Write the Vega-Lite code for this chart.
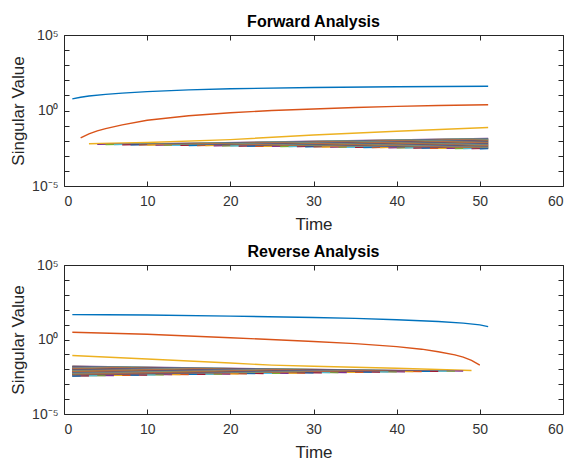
{
  "$schema": "https://vega.github.io/schema/vega-lite/v6.json",
  "background": "white",
  "padding": {"left": 9, "top": 14, "right": 5, "bottom": 2},
  "spacing": 12,
  "config": {
    "font": "Liberation Sans",
    "view": {"stroke": null},
    "axis": {"grid": false, "domainColor": "#262626", "tickColor": "#262626", "tickSize": -5, "labelColor": "#333333", "labelFontSize": 14, "titleFontSize": 17, "titleFontWeight": "normal", "titleColor": "#262626", "domainWidth": 1, "labelOverlap": false},
    "axisX": {"labelPadding": 13, "titlePadding": 8},
    "axisY": {"labelPadding": 11, "titlePadding": 4},
    "title": {"fontSize": 16, "fontWeight": "bold", "color": "#000000", "offset": -2}
  },
  "datasets": {
    "fwd": [
      {"s":1,"t":1,"v":5.89},{"s":1,"t":2,"v":7.59},{"s":1,"t":3,"v":9.12},{"s":1,"t":5,"v":11.7},{"s":1,"t":7,"v":14.1},{"s":1,"t":10,"v":17.8},{"s":1,"t":15,"v":23.4},{"s":1,"t":20,"v":27.5},{"s":1,"t":30,"v":33.1},{"s":1,"t":40,"v":37.2},{"s":1,"t":51,"v":40.7},
      {"s":2,"t":2,"v":0.01514},{"s":2,"t":3,"v":0.02818},{"s":2,"t":4,"v":0.04467},{"s":2,"t":5,"v":0.0631},{"s":2,"t":7,"v":0.1122},{"s":2,"t":10,"v":0.2239},{"s":2,"t":15,"v":0.4467},{"s":2,"t":20,"v":0.7079},{"s":2,"t":25,"v":1.0},{"s":2,"t":30,"v":1.259},{"s":2,"t":35,"v":1.585},{"s":2,"t":40,"v":1.862},{"s":2,"t":45,"v":2.138},{"s":2,"t":51,"v":2.399},
      {"s":3,"t":3,"v":0.00631},{"s":3,"t":10,"v":0.00759},{"s":3,"t":20,"v":0.01175},{"s":3,"t":30,"v":0.02399},{"s":3,"t":40,"v":0.04266},{"s":3,"t":51,"v":0.07413},
      {"s":4,"t":4,"v":0.00555},{"s":4,"t":51,"v":0.01445},
      {"s":5,"t":5,"v":0.00546},{"s":5,"t":51,"v":0.01396},
      {"s":6,"t":6,"v":0.00538},{"s":6,"t":51,"v":0.01349},
      {"s":7,"t":7,"v":0.00531},{"s":7,"t":51,"v":0.01303},
      {"s":8,"t":8,"v":0.00524},{"s":8,"t":51,"v":0.01259},
      {"s":9,"t":9,"v":0.00515},{"s":9,"t":51,"v":0.01213},
      {"s":10,"t":10,"v":0.00508},{"s":10,"t":51,"v":0.01172},
      {"s":11,"t":11,"v":0.00501},{"s":11,"t":51,"v":0.01132},
      {"s":12,"t":12,"v":0.00494},{"s":12,"t":51,"v":0.01094},
      {"s":13,"t":13,"v":0.00486},{"s":13,"t":51,"v":0.01057},
      {"s":14,"t":14,"v":0.0048},{"s":14,"t":51,"v":0.01021},
      {"s":15,"t":15,"v":0.00473},{"s":15,"t":51,"v":0.00986},
      {"s":16,"t":16,"v":0.00467},{"s":16,"t":51,"v":0.00953},
      {"s":17,"t":17,"v":0.00459},{"s":17,"t":51,"v":0.0092},
      {"s":18,"t":18,"v":0.00453},{"s":18,"t":51,"v":0.00889},
      {"s":19,"t":19,"v":0.00447},{"s":19,"t":51,"v":0.00857},
      {"s":20,"t":20,"v":0.00441},{"s":20,"t":51,"v":0.00828},
      {"s":21,"t":21,"v":0.00434},{"s":21,"t":51,"v":0.008},
      {"s":22,"t":22,"v":0.00428},{"s":22,"t":51,"v":0.00773},
      {"s":23,"t":23,"v":0.00422},{"s":23,"t":51,"v":0.00746},
      {"s":24,"t":24,"v":0.00416},{"s":24,"t":51,"v":0.00721},
      {"s":25,"t":25,"v":0.00409},{"s":25,"t":51,"v":0.00697},
      {"s":26,"t":26,"v":0.00404},{"s":26,"t":51,"v":0.00673},
      {"s":27,"t":27,"v":0.00398},{"s":27,"t":51,"v":0.0065},
      {"s":28,"t":28,"v":0.00393},{"s":28,"t":51,"v":0.00628},
      {"s":29,"t":29,"v":0.00386},{"s":29,"t":51,"v":0.00605},
      {"s":30,"t":30,"v":0.00381},{"s":30,"t":51,"v":0.00585},
      {"s":31,"t":31,"v":0.00376},{"s":31,"t":51,"v":0.00565},
      {"s":32,"t":32,"v":0.00371},{"s":32,"t":51,"v":0.00546},
      {"s":33,"t":33,"v":0.00365},{"s":33,"t":51,"v":0.00527},
      {"s":34,"t":34,"v":0.0036},{"s":34,"t":51,"v":0.00509},
      {"s":35,"t":35,"v":0.00355},{"s":35,"t":51,"v":0.00492},
      {"s":36,"t":36,"v":0.0035},{"s":36,"t":51,"v":0.00475},
      {"s":37,"t":37,"v":0.00344},{"s":37,"t":51,"v":0.00459},
      {"s":38,"t":38,"v":0.0034},{"s":38,"t":51,"v":0.00444},
      {"s":39,"t":39,"v":0.00335},{"s":39,"t":51,"v":0.00428},
      {"s":40,"t":40,"v":0.0033},{"s":40,"t":51,"v":0.00413},
      {"s":41,"t":41,"v":0.00325},{"s":41,"t":51,"v":0.00399},
      {"s":42,"t":42,"v":0.00321},{"s":42,"t":51,"v":0.00385},
      {"s":43,"t":43,"v":0.00316},{"s":43,"t":51,"v":0.00372},
      {"s":44,"t":44,"v":0.00312},{"s":44,"t":51,"v":0.0036},
      {"s":45,"t":45,"v":0.00307},{"s":45,"t":51,"v":0.00348},
      {"s":46,"t":46,"v":0.00303},{"s":46,"t":51,"v":0.00336},
      {"s":47,"t":47,"v":0.00299},{"s":47,"t":51,"v":0.00324},
      {"s":48,"t":48,"v":0.00294},{"s":48,"t":51,"v":0.00313},
      {"s":49,"t":49,"v":0.0029},{"s":49,"t":51,"v":0.00302},
      {"s":50,"t":50,"v":0.00286},{"s":50,"t":51,"v":0.00292}
    ],
    "rev": [
      {"s":1,"t":1,"v":46.8},{"s":1,"t":5,"v":45.7},{"s":1,"t":10,"v":43.7},{"s":1,"t":20,"v":37.2},{"s":1,"t":30,"v":30.2},{"s":1,"t":35,"v":26.3},{"s":1,"t":40,"v":21.4},{"s":1,"t":45,"v":16.2},{"s":1,"t":48,"v":12.6},{"s":1,"t":50,"v":9.55},{"s":1,"t":51,"v":7.24},
      {"s":2,"t":1,"v":3.09},{"s":2,"t":10,"v":2.24},{"s":2,"t":20,"v":1.318},{"s":2,"t":30,"v":0.741},{"s":2,"t":35,"v":0.525},{"s":2,"t":40,"v":0.331},{"s":2,"t":43,"v":0.224},{"s":2,"t":45,"v":0.151},{"s":2,"t":47,"v":0.0933},{"s":2,"t":48,"v":0.0661},{"s":2,"t":49,"v":0.0398},{"s":2,"t":50,"v":0.01905},
      {"s":3,"t":1,"v":0.0851},{"s":3,"t":10,"v":0.049},{"s":3,"t":20,"v":0.0263},{"s":3,"t":25,"v":0.01905},{"s":3,"t":30,"v":0.01585},{"s":3,"t":40,"v":0.01175},{"s":3,"t":49,"v":0.00832},
      {"s":4,"t":1,"v":0.01622},{"s":4,"t":48,"v":0.00759},
      {"s":5,"t":1,"v":0.01567},{"s":5,"t":47,"v":0.00746},
      {"s":6,"t":1,"v":0.01514},{"s":6,"t":46,"v":0.00733},
      {"s":7,"t":1,"v":0.01466},{"s":7,"t":45,"v":0.00721},
      {"s":8,"t":1,"v":0.01416},{"s":8,"t":44,"v":0.0071},
      {"s":9,"t":1,"v":0.01368},{"s":9,"t":43,"v":0.00698},
      {"s":10,"t":1,"v":0.01321},{"s":10,"t":42,"v":0.00687},
      {"s":11,"t":1,"v":0.01279},{"s":11,"t":41,"v":0.00676},
      {"s":12,"t":1,"v":0.01236},{"s":12,"t":40,"v":0.00664},
      {"s":13,"t":1,"v":0.01194},{"s":13,"t":39,"v":0.00653},
      {"s":14,"t":1,"v":0.01153},{"s":14,"t":38,"v":0.00643},
      {"s":15,"t":1,"v":0.01114},{"s":15,"t":37,"v":0.00632},
      {"s":16,"t":1,"v":0.01079},{"s":16,"t":36,"v":0.00622},
      {"s":17,"t":1,"v":0.01042},{"s":17,"t":35,"v":0.00612},
      {"s":18,"t":1,"v":0.01007},{"s":18,"t":34,"v":0.00601},
      {"s":19,"t":1,"v":0.00973},{"s":19,"t":33,"v":0.00592},
      {"s":20,"t":1,"v":0.00942},{"s":20,"t":32,"v":0.00582},
      {"s":21,"t":1,"v":0.0091},{"s":21,"t":31,"v":0.00573},
      {"s":22,"t":1,"v":0.00879},{"s":22,"t":30,"v":0.00564},
      {"s":23,"t":1,"v":0.00849},{"s":23,"t":29,"v":0.00555},
      {"s":24,"t":1,"v":0.0082},{"s":24,"t":28,"v":0.00545},
      {"s":25,"t":1,"v":0.00794},{"s":25,"t":27,"v":0.00536},
      {"s":26,"t":1,"v":0.00767},{"s":26,"t":26,"v":0.00527},
      {"s":27,"t":1,"v":0.00741},{"s":27,"t":25,"v":0.00519},
      {"s":28,"t":1,"v":0.00716},{"s":28,"t":24,"v":0.00511},
      {"s":29,"t":1,"v":0.00692},{"s":29,"t":23,"v":0.00502},
      {"s":30,"t":1,"v":0.0067},{"s":30,"t":22,"v":0.00493},
      {"s":31,"t":1,"v":0.00647},{"s":31,"t":21,"v":0.00485},
      {"s":32,"t":1,"v":0.00625},{"s":32,"t":20,"v":0.00478},
      {"s":33,"t":1,"v":0.00604},{"s":33,"t":19,"v":0.0047},
      {"s":34,"t":1,"v":0.00585},{"s":34,"t":18,"v":0.00462},
      {"s":35,"t":1,"v":0.00565},{"s":35,"t":17,"v":0.00455},
      {"s":36,"t":1,"v":0.00546},{"s":36,"t":16,"v":0.00447},
      {"s":37,"t":1,"v":0.00527},{"s":37,"t":15,"v":0.0044},
      {"s":38,"t":1,"v":0.00509},{"s":38,"t":14,"v":0.00433},
      {"s":39,"t":1,"v":0.00493},{"s":39,"t":13,"v":0.00426},
      {"s":40,"t":1,"v":0.00476},{"s":40,"t":12,"v":0.00419},
      {"s":41,"t":1,"v":0.0046},{"s":41,"t":11,"v":0.00412},
      {"s":42,"t":1,"v":0.00445},{"s":42,"t":10,"v":0.00405},
      {"s":43,"t":1,"v":0.00431},{"s":43,"t":9,"v":0.00398},
      {"s":44,"t":1,"v":0.00416},{"s":44,"t":8,"v":0.00392},
      {"s":45,"t":1,"v":0.00402},{"s":45,"t":7,"v":0.00385},
      {"s":46,"t":1,"v":0.00388},{"s":46,"t":6,"v":0.00379},
      {"s":47,"t":1,"v":0.00375},{"s":47,"t":5,"v":0.00373},
      {"s":48,"t":1,"v":0.00363},{"s":48,"t":4,"v":0.00366},
      {"s":49,"t":1,"v":0.00351},{"s":49,"t":3,"v":0.00361},
      {"s":50,"t":1,"v":0.00339},{"s":50,"t":2,"v":0.00355}
    ]
  },
  "vconcat": [
    {
      "title": "Forward Analysis",
      "width": 499,
      "height": 151,
      "data": {"name": "fwd"},
      "resolve": {"axis": {"x": "independent", "y": "independent"}},
      "layer": [
        {
          "mark": {"type": "line", "clip": true},
          "encoding": {
            "x": {"field": "t", "type": "quantitative", "scale": {"domain": [0, 60], "nice": false}, "axis": {"values": [0,10,20,30,40,50,60], "title": "Time"}},
            "y": {"field": "v", "type": "quantitative", "scale": {"type": "log", "domain": [0.00001, 100000], "nice": false}, "axis": {"values": [0.00001,0.0001,0.001,0.01,0.1,1,10,100,1000,10000,100000], "labelExpr": "datum.value < 0.00002 ? '10⁻⁵' : (datum.value > 0.5 && datum.value < 2) ? '10⁰' : datum.value > 50000 ? '10⁵' : ''", "title": "Singular Value"}},
            "color": {"field": "s", "type": "ordinal", "scale": {"range": ["#0072BD","#D95319","#EDB120","#7E2F8E","#77AC30","#4DBEEE","#A2142F"]}, "legend": null},
            "strokeWidth": {"condition": {"test": "datum.s <= 3", "value": 1.4}, "value": 1.1}
          }
        },
        {
          "mark": {"type": "line", "opacity": 0},
          "encoding": {
            "x": {"field": "t", "type": "quantitative", "axis": {"orient": "top", "values": [0,10,20,30,40,50,60], "labels": false, "title": null, "labelPadding": 0, "titlePadding": 0}},
            "y": {"field": "v", "type": "quantitative", "axis": {"orient": "right", "values": [0.00001,0.0001,0.001,0.01,0.1,1,10,100,1000,10000,100000], "labels": false, "title": null, "labelPadding": 0, "titlePadding": 0}}
          }
        }
      ]
    },
    {
      "title": "Reverse Analysis",
      "width": 499,
      "height": 149,
      "data": {"name": "rev"},
      "resolve": {"axis": {"x": "independent", "y": "independent"}},
      "layer": [
        {
          "mark": {"type": "line", "clip": true},
          "encoding": {
            "x": {"field": "t", "type": "quantitative", "scale": {"domain": [0, 60], "nice": false}, "axis": {"values": [0,10,20,30,40,50,60], "title": "Time"}},
            "y": {"field": "v", "type": "quantitative", "scale": {"type": "log", "domain": [0.00001, 100000], "nice": false}, "axis": {"values": [0.00001,0.0001,0.001,0.01,0.1,1,10,100,1000,10000,100000], "labelExpr": "datum.value < 0.00002 ? '10⁻⁵' : (datum.value > 0.5 && datum.value < 2) ? '10⁰' : datum.value > 50000 ? '10⁵' : ''", "title": "Singular Value"}},
            "color": {"field": "s", "type": "ordinal", "scale": {"range": ["#0072BD","#D95319","#EDB120","#7E2F8E","#77AC30","#4DBEEE","#A2142F"]}, "legend": null},
            "strokeWidth": {"condition": {"test": "datum.s <= 3", "value": 1.4}, "value": 1.1}
          }
        },
        {
          "mark": {"type": "line", "opacity": 0},
          "encoding": {
            "x": {"field": "t", "type": "quantitative", "axis": {"orient": "top", "values": [0,10,20,30,40,50,60], "labels": false, "title": null, "labelPadding": 0, "titlePadding": 0}},
            "y": {"field": "v", "type": "quantitative", "axis": {"orient": "right", "values": [0.00001,0.0001,0.001,0.01,0.1,1,10,100,1000,10000,100000], "labels": false, "title": null, "labelPadding": 0, "titlePadding": 0}}
          }
        }
      ]
    }
  ]
}
